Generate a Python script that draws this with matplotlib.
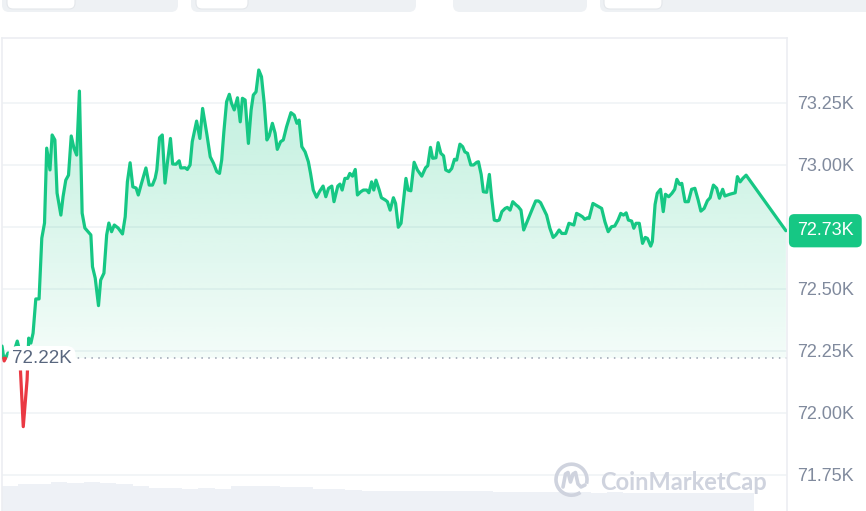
import numpy as np
import matplotlib
matplotlib.use('Agg')
import matplotlib.pyplot as plt
from matplotlib.patches import FancyBboxPatch, Arc
from matplotlib.path import Path
import matplotlib.transforms as mtransforms

plt.rcParams['font.family'] = ['Liberation Sans', 'DejaVu Sans']

# minutes since open (24h window) and price in USD
times = [0, 4, 11, 20, 28, 32, 39, 46, 49, 53, 57, 62, 68, 73, 78, 82, 88, 92, 97, 101, 108, 112, 117, 122, 127, 132,
         137, 142, 147, 152, 158, 163, 166, 171, 177, 181, 187, 192, 196, 201, 206, 213, 221, 226, 230, 235, 240, 246, 250, 255, 264, 270,
         276, 281, 284, 289, 294, 299, 304, 309, 313, 319, 325, 328, 336, 340, 345, 349, 357, 363, 368, 376, 382, 388, 394, 399, 403, 407,
         412, 417, 421, 426, 432, 437, 441, 446, 452, 457, 461, 466, 471, 476, 481, 486, 490, 496, 501, 505, 511, 516, 522, 530, 536, 541,
         545, 550, 556, 562, 566, 571, 577, 583, 589, 594, 599, 605, 609, 616, 620, 624, 629, 634, 638, 643, 648, 652, 658, 663, 669, 673,
         678, 682, 686, 692, 696, 703, 707, 712, 718, 722, 727, 732, 741, 745, 750, 756, 762, 770, 777, 781, 786, 790, 796, 800, 805, 810,
         814, 820, 825, 830, 834, 840, 845, 849, 854, 860, 865, 871, 874, 879, 883, 889, 894, 898, 903, 908, 912, 917, 923, 927, 932, 937,
         943, 947, 952, 957, 962, 968, 974, 979, 984, 988, 993, 999, 1005, 1011, 1016, 1022, 1027, 1034, 1040, 1045, 1049, 1054, 1060, 1065, 1069, 1074,
         1077, 1084, 1093, 1100, 1106, 1112, 1118, 1124, 1130, 1135, 1140, 1145, 1149, 1155, 1159, 1163, 1169, 1175, 1180, 1184, 1190, 1193, 1198, 1202, 1208, 1213,
         1217, 1223, 1229, 1234, 1238, 1243, 1247, 1253, 1259, 1265, 1271, 1277, 1282, 1288, 1294, 1299, 1305, 1311, 1316, 1322, 1326, 1335, 1345, 1349, 1354, 1359,
         1365, 1438]

prices = [72269, 72209, 72241, 72233, 72289, 72253, 71944, 72132, 72301, 72281, 72321, 72459, 72459, 72704, 72765, 73067, 72979, 73120, 73100, 72886, 72797, 72871, 72938, 72958, 73116, 73067,
          73039, 73297, 72805, 72745, 72730, 72717, 72589, 72543, 72432, 72535, 72563, 72717, 72765, 72730, 72757, 72745, 72721, 72790, 72931, 73008, 72911, 72906, 72878, 72918, 72987, 72918,
          72918, 72946, 72979, 73109, 73120, 72926, 73019, 73106, 73003, 73002, 73016, 72987, 72988, 72981, 72999, 73093, 73176, 73106, 73227, 73120, 73032, 73006, 72972, 72965, 73019, 73133,
          73254, 73284, 73248, 73221, 73270, 73173, 73268, 73261, 73086, 73221, 73281, 73294, 73382, 73355, 73248, 73100, 73116, 73167, 73127, 73062, 73093, 73100, 73153, 73210, 73200, 73167,
          73180, 73073, 73052, 73012, 72965, 72898, 72869, 72894, 72914, 72871, 72905, 72914, 72851, 72914, 72922, 72898, 72945, 72945, 72965, 72954, 72981, 72878, 72891, 72898, 72898, 72887,
          72931, 72898, 72938, 72898, 72867, 72858, 72851, 72817, 72867, 72844, 72748, 72764, 72945, 72898, 72895, 73010, 72979, 72954, 72988, 72996, 73070, 73026, 73028, 73089, 73046, 73036,
          72979, 72972, 72985, 73022, 73019, 73083, 73073, 73052, 73046, 72999, 72999, 73010, 73012, 72961, 72891, 72889, 72961, 72871, 72777, 72774, 72777, 72811, 72824, 72828, 72817, 72851,
          72838, 72831, 72817, 72737, 72764, 72797, 72828, 72854, 72854, 72847, 72824, 72797, 72744, 72707, 72717, 72737, 72723, 72723, 72764, 72760, 72757, 72804, 72797, 72790, 72780, 72786,
          72784, 72844, 72833, 72824, 72770, 72730, 72750, 72753, 72777, 72804, 72797, 72806, 72777, 72773, 72744, 72764, 72764, 72683, 72707, 72703, 72672, 72690, 72840, 72885, 72901, 72811,
          72881, 72871, 72885, 72901, 72941, 72921, 72925, 72851, 72851, 72901, 72905, 72858, 72813, 72824, 72855, 72867, 72918, 72905, 72865, 72901, 72874, 72881, 72887, 72952, 72931, 72945,
          72958, 72734]

open_price = 72220
last_label = '72.73K'
open_label = '72.22K'
tick_vals = [71750, 72000, 72250, 72500, 72750, 73000, 73250]
hidden_tick = 72750  # sits behind the current-price badge

# 30 min volume buckets (relative units)
volume = [25.5, 26.7, 27.0, 29.3, 28.5, 29.0, 27.7, 26.7, 25.0, 23.0, 22.7, 22.5, 22.7, 22.5, 25.0, 25.0,
          24.7, 24.3, 24.0, 22.0, 22.3, 21.5, 20.5, 20.3, 20.3, 20.3, 20.0, 20.5, 20.0, 20.0, 19.5, 19.3,
          19.0, 19.5, 19.0, 18.7, 18.5, 18.7, 18.3, 18.5, 18.0, 18.3, 18.0, 17.8, 18.0, 17.7]

GREEN = '#16c784'
RED = '#ea3943'

t = np.array(times, dtype=float)
p = np.array(prices, dtype=float)

# insert crossing points at the opening price so colours switch exactly there
ts, ps = [t[0]], [p[0]]
for i in range(1, len(t)):
    if (p[i-1] - open_price) * (p[i] - open_price) < 0:
        f = (open_price - p[i-1]) / (p[i] - p[i-1])
        ts.append(t[i-1] + f * (t[i] - t[i-1]))
        ps.append(open_price)
    ts.append(t[i])
    ps.append(p[i])
ts = np.array(ts)
ps = np.array(ps)

W, H = 866, 511
fig = plt.figure(figsize=(W / 100, H / 100), dpi=100)
fig.patch.set_facecolor('white')

ax_l, ax_r, ax_t, ax_b = 2, 787, 38, 511
rect = [ax_l / W, 1 - ax_b / H, (ax_r - ax_l) / W, (ax_b - ax_t) / H]

# volume underlay
axv = fig.add_axes(rect, zorder=0)
axv.bar(np.arange(len(volume)) * 30, volume, width=30, align='edge', color='#eef1f6', lw=0)
axv.set_xlim(0, 1440)
axv.set_ylim(0, ax_b - ax_t)
axv.axis('off')

ax = fig.add_axes(rect, zorder=1)
ax.set_facecolor('none')
ax.set_xlim(0, 1440)
ax.set_ylim(71604, 73511)

# gradient fill above the opening price
fb = ax.fill_between(ts, np.maximum(ps, open_price), open_price, color='none', lw=0)
clip = Path.make_compound_path(*fb.get_paths())
grad = np.zeros((256, 1, 4))
grad[..., 0] = 22 / 255
grad[..., 1] = 199 / 255
grad[..., 2] = 132 / 255
grad[:, 0, 3] = np.linspace(0.05, 0.28, 256)
im = ax.imshow(grad, extent=[0, 1440, open_price, ps.max()], origin='lower', aspect='auto', zorder=1)
im.set_clip_path(clip, transform=ax.transData)

green = np.ma.masked_where(ps < open_price, ps)
red = np.ma.masked_where(ps > open_price, ps)
ax.plot(ts, green, color=GREEN, lw=2.3, solid_joinstyle='round', solid_capstyle='round', zorder=3)
ax.plot(ts, red, color=RED, lw=2.3, solid_joinstyle='round', solid_capstyle='round', zorder=3)

ax.axhline(open_price, color='#9aa2b1', lw=1.1, ls=(0, (1, 3.5)), zorder=2)

ax.set_yticks(tick_vals)
ax.set_yticklabels(['' if v == hidden_tick else '%.2fK' % (v / 1000) for v in tick_vals])
ax.yaxis.tick_right()
ax.tick_params(axis='y', length=0, pad=7, labelsize=13, labelcolor='#808a9d')
ax.set_xticks([])
ax.grid(axis='y', color='#eff2f5', lw=1.1)
ax.set_axisbelow(True)
for s in ['top', 'left', 'right']:
    ax.spines[s].set_color('#eceef2')
    ax.spines[s].set_linewidth(1.2)
ax.spines['bottom'].set_visible(False)

blend = mtransforms.blended_transform_factory(ax.transAxes, ax.transData)
ax.text(0.013, open_price, open_label, transform=blend, ha='left', va='center',
        fontsize=13.5, color='#58667e', zorder=5,
        bbox=dict(boxstyle='round,pad=0.2,rounding_size=0.5', fc='white', ec='none'))
ax.text(1.0 + 10 / (ax_r - ax_l), p[-1], last_label, transform=blend, ha='left', va='center',
        fontsize=13, color='white', zorder=5, clip_on=False,
        bbox=dict(boxstyle='round,pad=0.45,rounding_size=0.3', fc=GREEN, ec='none'))

# overlay in pixel space: page tabs and watermark
ov = fig.add_axes([0, 0, 1, 1], zorder=6)
ov.set_xlim(0, W)
ov.set_ylim(H, 0)
ov.axis('off')
ov.patch.set_alpha(0)
for x0, x1 in [(2, 178), (191, 416), (453, 587), (600, 880)]:
    ov.add_patch(FancyBboxPatch((x0, -10), x1 - x0, 22, boxstyle='round,pad=0,rounding_size=7',
                                fc='#eef1f4', ec='none'))
for x0, x1 in [(7, 75), (196, 248), (604, 662)]:
    ov.add_patch(FancyBboxPatch((x0, -10), x1 - x0, 19, boxstyle='round,pad=0,rounding_size=6',
                                fc='white', ec='#e4e7eb', lw=0.8))

wm = '#cfd3de'
ov.add_patch(Arc((571.5, 479.7), 31, 31, theta1=55, theta2=375, color=wm, lw=2.6))
wave_x = [563, 565.5, 568, 570.5, 573, 575.5, 578, 581, 585]
wave_y = [487, 474, 472.5, 482, 474, 472.5, 484, 487, 485]
ov.plot(wave_x, wave_y, color=wm, lw=2.6, solid_joinstyle='round', solid_capstyle='round')
ov.text(600, 490, 'CoinMarketCap', fontsize=17, fontweight='bold', color=wm,
        family=['Lato', 'DejaVu Sans'], ha='left', va='baseline')

fig.savefig('out.png', dpi=100, facecolor='white')
